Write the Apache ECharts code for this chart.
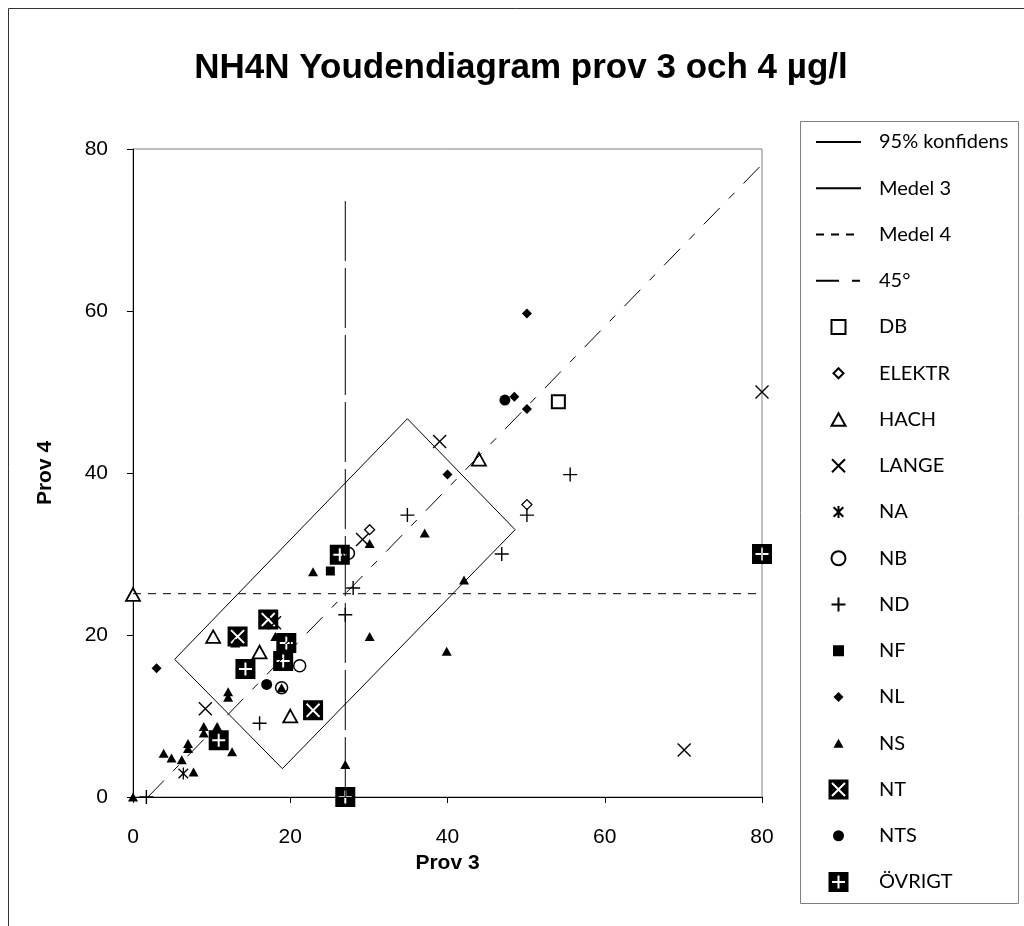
<!DOCTYPE html>
<html><head><meta charset="utf-8">
<script src="https://cdn.jsdelivr.net/npm/echarts@6/dist/echarts.min.js"></script>
<style>html,body{margin:0;padding:0;background:#fff}#c{width:1024px;height:926px}</style>
</head><body><div id="c"></div>
<script>
// ---- data ----
const titleText = 'NH4N Youdendiagram prov 3 och 4 µg/l';
const xName = 'Prov 3';
const yName = 'Prov 4';
const axisMin = 0, axisMax = 80, axisStep = 20;

const confidenceX = [5.3, 19.0, 48.6, 34.9, 5.3];
const confidenceY = [17.0, 3.5, 33.0, 46.7, 17.0];
const medel3X = [27.0, 27.0];
const medel3Y = [0, 74];
const medel4X = [0, 80];
const medel4Y = [25.1, 25.1];
const diagX = [1.9, 80];
const diagY = [0, 78.1];

const DB = [[54.1, 48.8]];
const ELEKTR = [[30.1, 33.0], [50.1, 36.1]];
const HACH = [[0, 25], [10.2, 19.8], [16.1, 17.9], [20.0, 10.0], [44.0, 41.7]];
const LANGE = [[80, 50], [70.1, 5.8], [39.0, 43.9], [9.2, 10.9], [29.2, 31.8], [18.0, 21.5]];
const NA = [[6.4, 2.9], [20.0, 19.5]];
const NB = [[21.2, 16.2], [18.9, 13.5], [27.4, 30.1]];
const ND = [[1.7, 0], [16.1, 9.1], [28.0, 25.8], [27.0, 22.5], [34.9, 34.8], [46.9, 30.0], [50.1, 34.8], [55.6, 39.8]];
const NF = [[25.1, 27.9]];
const NL = [[3.0, 15.9], [40.0, 39.8], [48.5, 49.4], [50.1, 47.9], [50.1, 59.7]];
const NS = [[0, 0], [22.9, 27.8], [30.1, 31.3], [37.1, 32.6], [42.1, 26.8], [30.1, 19.8], [39.9, 18.0], [27.0, 4.0],
            [18.1, 19.8], [13.0, 19.0], [18.9, 13.5], [12.1, 13.0], [12.1, 12.3], [9.0, 8.7], [9.0, 7.9], [10.7, 8.7],
            [12.6, 5.6], [7.0, 6.6], [7.0, 6.0], [3.9, 5.4], [4.9, 4.8], [6.2, 4.6], [7.7, 3.1]];
const NT = [[13.3, 19.8], [17.2, 21.9], [22.9, 10.7]];
const NTS = [[17.0, 13.9], [47.3, 49.0]];
const OVRIGT = [[26.3, 29.9], [19.5, 19.0], [19.1, 16.8], [14.3, 15.8], [10.9, 7.0], [27.0, 0], [80, 30]];

// ---- symbol helpers ----
const zip = (xs, ys) => xs.map((x, i) => [x, ys[i]]);
function boxWithHole(angle, t, a) {
  const c = 10;
  const base = [[-t,-a],[-t,-t],[-a,-t],[-a,t],[-t,t],[-t,a],[t,a],[t,t],[a,t],[a,-t],[t,-t],[t,-a]];
  const ca = Math.cos(angle), sa = Math.sin(angle);
  const pts = base.map(([x, y]) => [c + x * ca - y * sa, c + x * sa + y * ca]);
  return 'M0,0L20,0L20,20L0,20Z M' + pts.map(q => q[0].toFixed(2) + ',' + q[1].toFixed(2)).join('L') + 'Z';
}
// shapes in a 20x20 box, centred at (10,10), with half-size h
const shp = {
  x: h => `M${10-h},${10-h}L${10+h},${10+h}M${10-h},${10+h}L${10+h},${10-h}`,
  plus: h => `M10,${10-h}L10,${10+h}M${10-h},10L${10+h},10`,
  ast: h => `M${10-h*0.8},${10-h*0.8}L${10+h*0.8},${10+h*0.8}M${10-h*0.8},${10+h*0.8}L${10+h*0.8},${10-h*0.8}M10,${10-h}L10,${10+h}`,
  rect: h => `M${10-h},${10-h}L${10+h},${10-h}L${10+h},${10+h}L${10-h},${10+h}Z`,
  diamond: h => `M10,${10-h}L${10+h},10L10,${10+h}L${10-h},10Z`,
  tri: h => `M10,${10-h*0.9}L${10+h},${10+h*0.9}L${10-h},${10+h*0.9}Z`,
  circle: h => `M${10-h},10A${h},${h} 0 1,1 ${10+h},10A${h},${h} 0 1,1 ${10-h},10Z`
};
const bare = (s) => 'path://' + s;                 // tight symbol for the plot
const padded = (s) => 'path://M0,0M20,20' + s;     // 20x20 legend icon
const X_S = shp.x(5), PLUS_S = shp.plus(5), AST_S = shp.ast(5), RECT_S = shp.rect(5),
      DIA_S = shp.diamond(5), TRI_S = shp.tri(5);
const NT_S = boxWithHole(Math.PI / 4, 1.0, 9.2);
const OV_S = boxWithHole(0, 1.0, 6.5);
const NONE_SYMBOL = 'path://M0,0L1,1';

const FONT = 'Liberation Sans, Arial, sans-serif';

function lineSeries(name, data, type) {
  return { name, type: 'line', data, symbol: NONE_SYMBOL, showSymbol: false, clip: false, silent: true,
    lineStyle: { color: '#000', width: 1, type }, itemStyle: { color: '#000', borderWidth: 0 } };
}
function scat(name, data, symbol, size, fill, bw, icon) {
  return { s: { name, type: 'scatter', data, symbol, symbolSize: size, symbolKeepAspect: true, clip: false,
    itemStyle: { color: fill, borderColor: '#000', borderWidth: bw, opacity: 1 } }, icon };
}

const lines = [
  lineSeries('95% konfidens', zip(confidenceX, confidenceY), 'solid'),
  lineSeries('Medel 3', zip(medel3X, medel3Y), [60, 7]),
  lineSeries('Medel 4', zip(medel4X, medel4Y), [8, 7]),
  lineSeries('45°', zip(diagX, diagY), [23, 13, 8, 13])
];
const scatters = [
  scat('DB', DB, bare(RECT_S), 13, '#fff', 2, padded(shp.rect(7))),
  scat('ELEKTR', ELEKTR, bare(DIA_S), 10, '#fff', 1.3, padded(shp.diamond(5))),
  scat('HACH', HACH, bare(TRI_S), 14, '#fff', 1.8, padded(shp.tri(7))),
  scat('LANGE', LANGE, bare(X_S), 13, '#000', 1.4, padded(shp.x(6.5))),
  scat('NA', NA, bare(AST_S), 12, '#000', 1.3, padded(shp.ast(6))),
  scat('NB', NB, 'circle', 12, '#fff', 1.5, padded(shp.circle(7))),
  scat('ND', ND, bare(PLUS_S), 14, '#000', 1.4, padded(shp.plus(7))),
  scat('NF', NF, bare(RECT_S), 9, '#000', 0, padded(shp.rect(5.5))),
  scat('NL', NL, bare(DIA_S), 10, '#000', 0, padded(shp.diamond(5))),
  scat('NS', NS, bare(TRI_S), 10, '#000', 0, padded(shp.tri(5))),
  scat('NT', NT, bare(NT_S), 20, '#000', 0, bare(NT_S)),
  scat('NTS', NTS, 'circle', 11, '#000', 0, padded(shp.circle(5.5))),
  scat('ÖVRIGT', OVRIGT, bare(OV_S), 20, '#000', 0, bare(OV_S))
];
const series = lines.concat(scatters.map(o => o.s));

const legendData = lines.map(s => s.name === 'Medel 3' ? { name: s.name, lineStyle: { type: 'solid' } } : { name: s.name })
  .concat(scatters.map(o => ({ name: o.s.name, icon: o.icon })));

const chart = echarts.init(document.getElementById('c'), null, { renderer: 'canvas' });
chart.setOption({
  animation: false,
  backgroundColor: '#fff',
  textStyle: { fontFamily: FONT },
  grid: { left: 133, right: 262, top: 149, bottom: 129, show: true, borderColor: '#808080', borderWidth: 1, backgroundColor: 'transparent' },
  xAxis: {
    type: 'value', min: axisMin, max: axisMax, interval: axisStep,
    name: xName, nameLocation: 'middle', nameGap: 22,
    nameTextStyle: { fontFamily: FONT, fontWeight: 'bold', fontSize: 21, color: '#000', verticalAlign: 'top' },
    axisLine: { show: true, onZero: false, lineStyle: { color: '#000', width: 1 } },
    axisTick: { show: true, inside: false, length: 6, lineStyle: { color: '#000' } },
    axisLabel: { fontFamily: FONT, fontSize: 21, color: '#000', margin: 30 },
    splitLine: { show: false }
  },
  yAxis: {
    type: 'value', min: axisMin, max: axisMax, interval: axisStep,
    name: yName, nameLocation: 'middle', nameGap: 77, nameRotate: 90,
    nameTextStyle: { fontFamily: FONT, fontWeight: 'bold', fontSize: 21, color: '#000' },
    axisLine: { show: true, onZero: false, lineStyle: { color: '#000', width: 1 } },
    axisTick: { show: true, inside: false, length: 6, lineStyle: { color: '#000' } },
    axisLabel: { fontFamily: FONT, fontSize: 21, color: '#000', margin: 25 },
    splitLine: { show: false }
  },
  legend: {
    orient: 'vertical', left: 810, top: 125, itemWidth: 45, itemHeight: 20, itemGap: 22.25,
    selectedMode: false, data: legendData, symbolKeepAspect: true,
    textStyle: { fontFamily: 'Lato, sans-serif', fontSize: 20, lineHeight: 24, color: '#000', padding: [0, 0, 0, 13] }
  },
  graphic: [
    { type: 'rect', z: -10, silent: true, shape: { x: 8.5, y: 8.5, width: 1100, height: 1000 }, style: { fill: 'none', stroke: '#333', lineWidth: 1 } },
    { type: 'rect', z: -5, silent: true, shape: { x: 800.5, y: 121.5, width: 218, height: 782 }, style: { fill: '#fff', stroke: '#808080', lineWidth: 1 } },
    { type: 'text', silent: true, x: 521, y: 68, style: { text: titleText, font: 'bold 35px ' + FONT, fill: '#000', textAlign: 'center', textVerticalAlign: 'middle' } }
  ],
  series
});
</script>
</body></html>
